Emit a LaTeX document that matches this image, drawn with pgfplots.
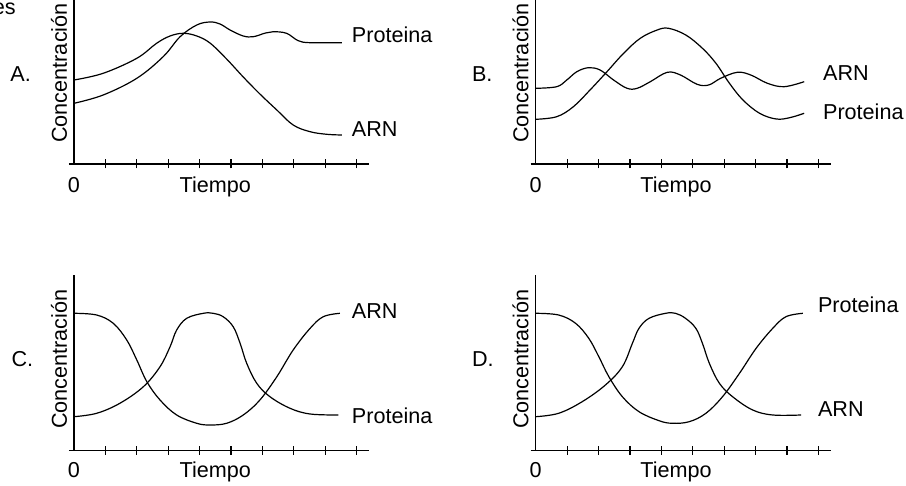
\documentclass[border=0pt]{standalone}
\usepackage{fontspec}
\setmainfont{Liberation Sans}
\usepackage{pgfplots}
\pgfplotsset{compat=1.18}

\pgfplotsset{
  panel/.style={
    x=15.7pt, y=0.5pt,
    anchor=origin,
    axis lines=middle,
    axis line style={-, line width=0.6pt},
    xmin=-0.16, xmax=9.4, ymin=0,
    xtick={0,...,9}, xticklabels={},
    ytick=\empty,
    tick align=center,
    major tick length=4.5pt,
    tick style={black, line width=0.6pt},
    clip=false,
  },
  curve/.style={black, line width=0.6pt, smooth, tension=0.6, mark=none},
}

\begin{document}
\fontsize{10.8}{13}\selectfont
\begin{tikzpicture}
\useasboundingbox (0,0) rectangle (453pt,-243pt);
\clip (0,0) rectangle (453pt,-243pt);
\node[anchor=base east, inner sep=0] at (8pt,-7.5pt) {es};

% A
\begin{axis}[panel, at={(37pt,-82pt)}, ymax=170]
  % ARN
  \addplot[curve] coordinates {(0,84) (0.93,90.7) (2.0,105.7) (2.63,120.7) (3.06,128) (3.48,130.7) (3.91,128) (4.33,121) (4.86,105) (5.39,87) (5.92,70) (6.46,54) (6.98,39) (7.52,32.3) (8.05,29.7) (8.53,29)};
  % Proteina
  \addplot[curve] coordinates {(0,60.7) (0.93,69) (2.0,85.7) (2.84,107.3) (3.38,127.3) (3.91,139) (4.33,142) (4.65,140) (4.97,134) (5.39,128) (5.71,127.3) (6.1,131) (6.35,132.3) (6.77,130.7) (7.14,123.3) (7.52,121.3) (8.53,121.3)};
  \node[anchor=base west, inner sep=0] at (axis cs:8.84,121.7) {Proteina};
  \node[anchor=base west, inner sep=0] at (axis cs:8.84,27.3) {ARN};
  \node[anchor=base west, inner sep=0] at (axis cs:-2.04,82.3) {A.};
  \node[rotate=90, inner sep=0] at (axis cs:-0.48,91) {Concentración};
  \node[anchor=base, inner sep=0] at (axis cs:0,-28.7) {0};
  \node[anchor=base, inner sep=0] at (axis cs:4.5,-28.7) {Tiempo};
\end{axis}

% B
\begin{axis}[panel, at={(267.85pt,-82pt)}, ymax=170]
  % ARN
  \addplot[curve] coordinates {(0,75.7) (0.67,77.3) (0.99,84) (1.31,92.3) (1.68,96.3) (2.05,94) (2.48,84) (2.91,75.7) (3.23,75.7) (3.65,82.3) (4.19,91.7) (4.61,89) (5.14,79.7) (5.51,79) (5.89,85.7) (6.42,91.7) (6.85,89) (7.38,80.7) (7.91,77.3) (8.55,82.3)};
  % Proteina
  \addplot[curve] coordinates {(0,44.7) (0.67,47.3) (1.20,57.3) (1.73,74) (2.27,92.3) (2.80,110.7) (3.33,125.7) (3.87,134) (4.23,135.7) (4.78,129) (5.31,115.7) (5.74,100.7) (6.17,80.7) (6.60,64) (7.13,50.7) (7.66,45) (8.09,46.3) (8.55,50.7)};
  \node[anchor=base west, inner sep=0] at (axis cs:9.14,83) {ARN};
  \node[anchor=base west, inner sep=0] at (axis cs:9.14,44) {Proteina};
  \node[anchor=base west, inner sep=0] at (axis cs:-2.04,82.3) {B.};
  \node[rotate=90, inner sep=0] at (axis cs:-0.48,91) {Concentración};
  \node[anchor=base, inner sep=0] at (axis cs:0,-28.7) {0};
  \node[anchor=base, inner sep=0] at (axis cs:4.47,-28.7) {Tiempo};
\end{axis}

% C
\begin{axis}[panel, at={(37pt,-225.15pt)}, ymax=175.6]
  % ARN
  \addplot[curve] coordinates {(0,137) (0.72,135.3) (1.25,127) (1.68,110.3) (2.0,90.3) (2.32,68.6) (2.74,50.3) (3.27,35.3) (3.91,27) (4.33,25.3) (4.86,27) (5.39,35.3) (5.92,50.3) (6.46,73.6) (6.98,100.3) (7.52,122) (7.94,133.6) (8.47,137)};
  % Proteina
  \addplot[curve] coordinates {(0,33.6) (0.72,37) (1.46,47) (2.21,63.6) (2.74,83.6) (3.06,103.6) (3.27,120.3) (3.59,132) (4.12,137) (4.43,137) (4.75,133.6) (5.07,123.6) (5.29,107) (5.50,87) (5.82,67) (6.24,53.6) (6.88,42) (7.52,36.3) (8.42,35.3)};
  \node[anchor=base west, inner sep=0] at (axis cs:8.84,131.3) {ARN};
  \node[anchor=base west, inner sep=0] at (axis cs:8.84,27.3) {Proteina};
  \node[anchor=base west, inner sep=0] at (axis cs:-2.0,84) {C.};
  \node[rotate=90, inner sep=0] at (axis cs:-0.48,91) {Concentración};
  \node[anchor=base, inner sep=0] at (axis cs:0,-27.7) {0};
  \node[anchor=base, inner sep=0] at (axis cs:4.5,-27.7) {Tiempo};
\end{axis}

% D
\begin{axis}[panel, at={(267.85pt,-225.15pt)}, ymax=175.6]
  % Proteina
  \addplot[curve] coordinates {(0,137) (0.73,135.3) (1.27,127) (1.69,112) (2.01,93.6) (2.33,73.6) (2.76,53.6) (3.29,38.6) (3.93,29.6) (4.35,27) (4.89,28.6) (5.42,37) (5.95,53.6) (6.49,77) (7.02,102) (7.55,122) (7.97,133.6) (8.51,137)};
  % ARN
  \addplot[curve] coordinates {(0,33.6) (0.73,37) (1.48,48.6) (2.22,65.3) (2.76,83.6) (3.08,107) (3.29,122) (3.61,132) (4.14,137) (4.45,137) (4.77,132) (5.10,122) (5.31,107) (5.53,87) (5.85,67) (6.27,53.6) (6.91,40.3) (7.55,35.3) (8.45,35.3)};
  \node[anchor=base west, inner sep=0] at (axis cs:8.98,137.3) {Proteina};
  \node[anchor=base west, inner sep=0] at (axis cs:8.98,34) {ARN};
  \node[anchor=base west, inner sep=0] at (axis cs:-2.04,83.3) {D.};
  \node[rotate=90, inner sep=0] at (axis cs:-0.48,91) {Concentración};
  \node[anchor=base, inner sep=0] at (axis cs:0,-27.7) {0};
  \node[anchor=base, inner sep=0] at (axis cs:4.47,-27.7) {Tiempo};
\end{axis}
\end{tikzpicture}
\end{document}
